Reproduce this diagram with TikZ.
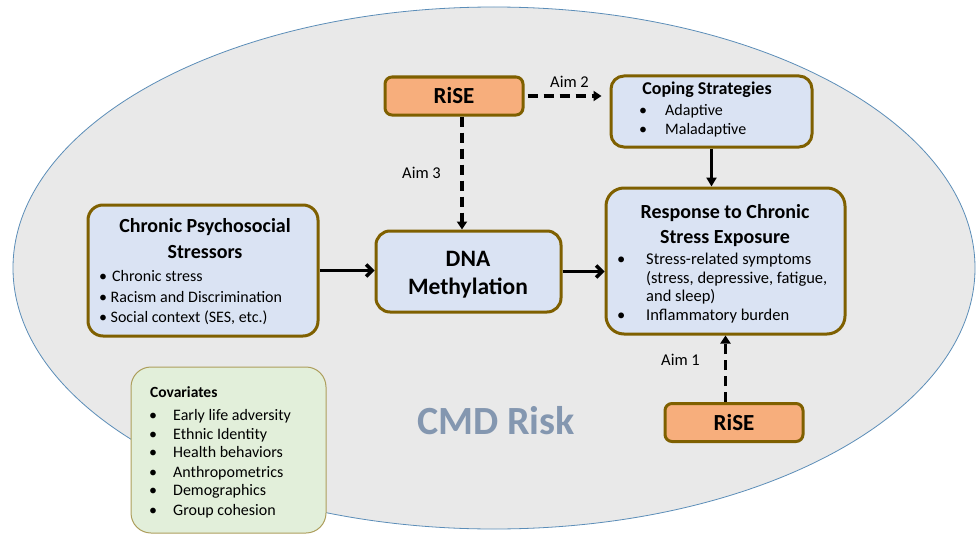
\documentclass[tikz,border=0pt]{standalone}
\usepackage{fontspec}
\setmainfont{Carlito}
\usetikzlibrary{arrows.meta,calc}
\definecolor{ellfill}{HTML}{E9E9E9}
\definecolor{ellline}{HTML}{5B8DB8}
\definecolor{boxfill}{HTML}{DAE3F3}
\definecolor{boxline}{HTML}{7F6000}
\definecolor{risefill}{HTML}{F7AE7C}
\definecolor{covfill}{HTML}{E2EFDA}
\definecolor{covline}{HTML}{AD9E5C}
\definecolor{cmdcol}{HTML}{8497B0}
\newcommand{\fsz}[1]{\fontsize{#1}{#1}\selectfont}
\newcommand{\bl}[1]{\makebox[#1][l]{\textbullet}}
\begin{document}
\begin{tikzpicture}[x=1pt,y=-1pt,
  bluebox/.style={draw=boxline,line width=3pt,fill=boxfill,inner sep=0pt},
  risebox/.style={draw=boxline,line width=3pt,fill=risefill,rounded corners=7pt,inner sep=0pt,minimum width=138pt,minimum height=38pt,font=\fsz{23pt}\bfseries},
  covbox/.style={draw=covline,line width=1pt,fill=covfill,rounded corners=20pt,inner sep=0pt},
  ttl/.style={inner sep=0pt,anchor=base,font=\fsz{20pt}\bfseries},
  li/.style={inner sep=0pt,anchor=base west,font=\fsz{16pt}},
  lis/.style={inner sep=0pt,anchor=base west,font=\fsz{16.5pt}},
  aim/.style={inner sep=0pt,anchor=base west,font=\fsz{16.5pt}},
  solidarrow/.style={line width=3.5pt,-{Straight Barb[length=6pt,width=12pt]}},
  downarrow/.style={line width=2.5pt,-{Triangle[length=9pt,width=10pt]}},
  dasharrow/.style={line width=3.5pt,dash pattern=on 10pt off 6pt,-{Triangle[length=8pt,width=10pt]}},
]
\useasboundingbox (0,0) rectangle (977,535);
% background ellipse
\filldraw[fill=ellfill,draw=ellline,line width=0.8pt] (494,268) ellipse [x radius=481pt, y radius=261pt];

% boxes
\node[bluebox,rounded corners=15pt,minimum width=230pt,minimum height=131pt] (stress) at (203,270.5) {};
\node[bluebox,rounded corners=14pt,minimum width=185pt,minimum height=81pt] (dna) at (468.5,271.5) {};
\node[bluebox,rounded corners=18pt,minimum width=239pt,minimum height=146pt] (resp) at (725.5,261) {};
\node[bluebox,rounded corners=13pt,minimum width=201pt,minimum height=71pt] (coping) at (711.5,111.5) {};
\node[risebox] (rise1) at (454,96) {RiSE};
\node[risebox] (rise2) at (734,422.5) {RiSE};
\node[covbox,minimum width=195pt,minimum height=166pt] (cov) at (228.5,450) {};

% stressors text
\node[ttl] (st1) at (205,232) {Chronic Psychosocial};
\node[ttl] (st2) at (205,258) {Stressors};
\node[li] (sb1) at (99,281) {\textbullet\hspace{5pt}Chronic stress};
\node[li] (sb2) at (99,302) {\textbullet\hspace{3.5pt}Racism and Discrimination};
\node[li] (sb3) at (99,322) {\textbullet\hspace{3.5pt}Social context (SES, etc.)};

% DNA text
\node[inner sep=0pt,anchor=base,font=\fsz{23.5pt}\bfseries] (dn1) at (468,266) {DNA};
\node[inner sep=0pt,anchor=base,font=\fsz{23.5pt}\bfseries] (dn2) at (468,294) {Methylation};

% response text
\node[ttl] (rt1) at (725,218) {Response to Chronic};
\node[ttl] (rt2) at (725,243) {Stress Exposure};
\node[lis] (rb1) at (617,264) {\bl{29pt}Stress-related symptoms};
\node[lis] (rb2) at (646,283) {(stress, depressive, fatigue,};
\node[lis] (rb3) at (646,301) {and sleep)};
\node[lis] (rb4) at (617,320) {\bl{29pt}Inflammatory burden};

% coping text
\node[inner sep=0pt,anchor=base,font=\fsz{18pt}\bfseries] (ct1) at (707,95) {Coping Strategies};
\node[li] (cb1) at (639,115) {\bl{26pt}Adaptive};
\node[li] (cb2) at (639,134) {\bl{26pt}Maladaptive};

% covariates text
\node[inner sep=0pt,anchor=base west,font=\fsz{15.5pt}\bfseries] (cv0) at (150,397) {Covariates};
\node[li] (cv1) at (149,420) {\bl{24pt}Early life adversity};
\node[li] (cv2) at (149,439) {\bl{24pt}Ethnic Identity};
\node[li] (cv3) at (149,457) {\bl{24pt}Health behaviors};
\node[li] (cv4) at (149,477) {\bl{24pt}Anthropometrics};
\node[li] (cv5) at (149,495) {\bl{24pt}Demographics};
\node[li] (cv6) at (149,515) {\bl{24pt}Group cohesion};

% CMD Risk
\node[inner sep=0pt,anchor=base,font=\fsz{40pt}\bfseries,text=cmdcol] (cmd) at (496,434) {CMD Risk};

% aim labels
\node[aim] (aim2) at (550,88) {Aim 2};
\node[aim] (aim3) at (402,178) {Aim 3};
\node[aim] (aim1) at (661,365) {Aim 1};

% connectors
\coordinate (a3x) at (462,0);
\draw[solidarrow] (stress.east) -- (stress.east -| dna.west);
\draw[solidarrow] (dna.east) -- (dna.east -| resp.west);
\draw[dasharrow] (rise1.south -| a3x) -- (dna.north -| a3x);
\draw[dasharrow,shorten <=3pt,shorten >=8pt] (rise1.east) -- (rise1.east -| coping.west);
\draw[downarrow] (coping.south) -- (coping.south |- resp.north);
\draw[dasharrow] (rise2.north -| resp.south) -- (resp.south);
\end{tikzpicture}
\end{document}
